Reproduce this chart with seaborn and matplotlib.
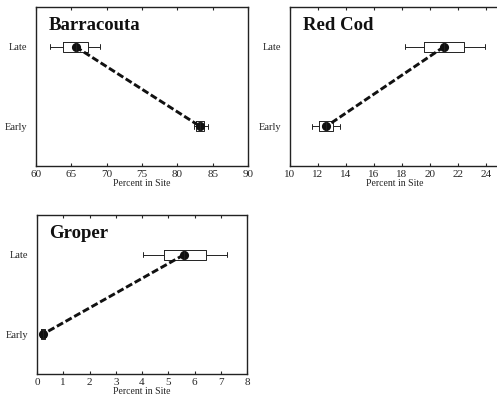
import numpy as np
import pandas as pd
import seaborn as sns
import matplotlib
matplotlib.use('Agg')
import matplotlib.pyplot as plt

sns.set_style('ticks')
plt.rcParams['font.family'] = ['Liberation Serif', 'DejaVu Serif']

periods = ['Late', 'Early']
# five-number summaries (min, q1, median, q3, max)
barracouta_late = [62.0, 63.8, 65.6, 67.3, 69.0]
barracouta_early = [82.4, 82.7, 83.2, 83.8, 84.4]
redcod_late = [18.2, 19.6, 21.0, 22.4, 23.9]
redcod_early = [11.6, 12.1, 12.6, 13.1, 13.6]
groper_late = [4.05, 4.85, 5.6, 6.45, 7.25]
groper_early = [0.1, 0.15, 0.22, 0.3, 0.35]
# means (dots joined by the dashed line)
barracouta_means = [65.6, 83.2]
redcod_means = [21.0, 12.6]
groper_means = [5.6, 0.22]

panels = [
    ('Barracouta', barracouta_late, barracouta_early, barracouta_means,
     (60, 90), range(60, 91, 5), [36/497, 237/403, 212/497, 159/403]),
    ('Red Cod', redcod_late, redcod_early, redcod_means,
     (10, 25), range(10, 25, 2), [290/497, 237/403, 210/497, 159/403]),
    ('Groper', groper_late, groper_early, groper_means,
     (0, 8), range(0, 9), [37/497, 29/403, 210/497, 159/403]),
]

fig = plt.figure(figsize=(4.97, 4.03), dpi=100)

for name, late, early, means, xlim, ticks, pos in panels:
    ax = fig.add_axes(pos)
    df = pd.DataFrame({'pct': late + early,
                       'period': ['Late'] * len(late) + ['Early'] * len(early)})
    sns.boxplot(data=df, x='pct', y='period', order=periods, orient='h',
                whis=(0, 100), width=0.12, fill=False, color='#222222',
                linewidth=0.7, ax=ax)
    n_before = len(ax.lines)
    sns.pointplot(x=means, y=periods, order=periods, orient='h',
                  color='#111111', linestyles='--', markers='o',
                  errorbar=None, markersize=5, linewidth=2.1, ax=ax)
    for ln in ax.lines[n_before:]:
        ln.set_dashes([2.4, 1.0])
    ax.set_xlim(*xlim)
    ax.set_ylim(1.5, -0.5)
    ax.set_xticks(list(ticks))
    ax.set_xlabel('Percent in Site', fontsize=7, labelpad=0)
    ax.set_ylabel('')
    ax.tick_params(axis='x', direction='in', length=2.5, width=0.8,
                   labelsize=8, top=True, pad=3)
    ax.tick_params(axis='y', length=0, labelsize=7.5, pad=6)
    for sp in ax.spines.values():
        sp.set_visible(True)
        sp.set_linewidth(1.0)
        sp.set_color('#222222')
    ax.text(0.06, 0.94, name, transform=ax.transAxes, ha='left', va='top',
            fontsize=13.5, fontweight='bold', color='#111111')

fig.savefig('out.png', dpi=100)
